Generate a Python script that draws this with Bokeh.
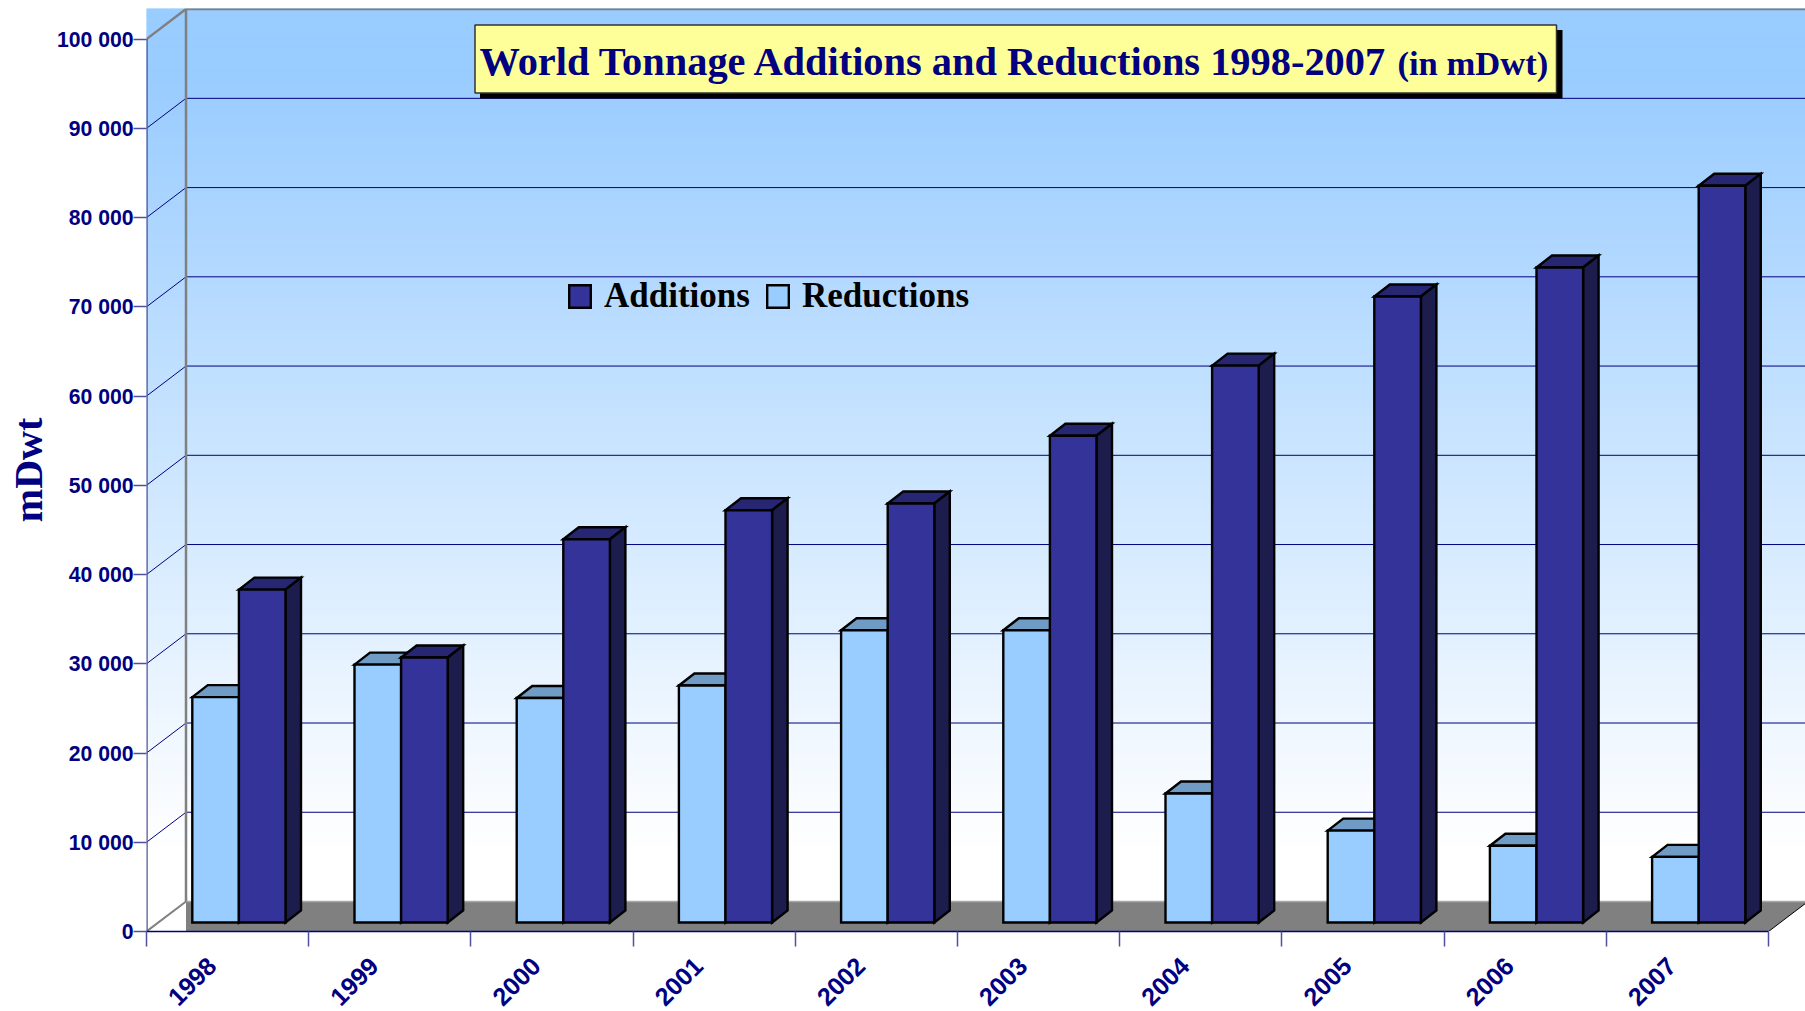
from bokeh.plotting import figure
from bokeh.embed import file_html
from bokeh.resources import INLINE
from bokeh.models import FixedTicker, Legend, LegendItem
from bokeh.core.properties import value

years = ["1998", "1999", "2000", "2001", "2002", "2003", "2004", "2005", "2006", "2007"]
additions = [37300, 29700, 42950, 46200, 46950, 54550, 62400, 70150, 73400, 82550]
reductions = [25250, 28900, 25150, 26550, 32750, 32750, 14450, 10300, 8600, 7350]
y_ticks = [0, 10000, 20000, 30000, 40000, 50000, 60000, 70000, 80000, 90000, 100000]
y_labels = ["0", "10 000", "20 000", "30 000", "40 000", "50 000", "60 000", "70 000", "80 000", "90 000", "100 000"]

# geometry of the reference, in page pixels
LEFT, TOP, BOTTOM = 146.0, 8.0, 931.0
XS, YS = 162.2, 0.008924
WIDTH, HEIGHT = 1805, 1011
frame_w, frame_h = WIDTH - int(LEFT), int(BOTTOM - TOP)


def dx(px):
    return px / XS


def dy(px):
    return px / YS


def X(px):
    return (px - LEFT) / XS


def Y(px):
    return (BOTTOM - px) / YS


p = figure(width=WIDTH, height=HEIGHT, frame_width=frame_w, frame_height=frame_h,
           x_range=(0, frame_w / XS), y_range=(0, frame_h / YS),
           output_backend="svg", toolbar_location=None,
           min_border_left=int(LEFT), min_border_right=0, min_border_top=int(TOP), min_border_bottom=HEIGHT - int(BOTTOM),
           outline_line_color=None, background_fill_color="white", border_fill_color="white")
p.grid.visible = False

# back wall gradient
n = 120
tops = [frame_h / YS * (n - i) / n for i in range(n)]
bots = [frame_h / YS * (n - i - 1) / n for i in range(n)]


def lerp(t):
    t = min(1.0, max(0.0, t))
    a, b, c = (0x99, 0xCC, 0xFF)
    return "#%02x%02x%02x" % (round(a + (255 - a) * t), round(b + (255 - b) * t), round(c + (255 - c) * t))


cols = [lerp((i / n - 0.07) / 0.84) for i in range(n)]
p.quad(left=0, right=frame_w / XS, top=tops, bottom=bots, fill_color=cols, line_color=cols, line_width=1)

# wall depth
WX, WY = dx(39.5), dy(30.0)
xend = 10

# floor
p.patch([WX, WX, xend + WX, xend], [0, WY, WY, 0], fill_color="#808080", line_color=None)
p.line([WX, xend + WX], [WY, WY], line_color="#a8a8a8", line_width=1.5)
p.line([xend, xend + WX], [0, WY], line_color="#000000", line_width=1)

# gridlines
g = [t for t in y_ticks[1:-1]]
p.segment(x0=[0] * len(g), y0=g, x1=[WX] * len(g), y1=[t + WY for t in g], line_color="#000080", line_width=1)
p.segment(x0=[WX] * len(g), y0=[t + WY for t in g], x1=[frame_w / XS] * len(g), y1=[t + WY for t in g],
          line_color="#000080", line_width=1)

# wall frame
p.line([0, WX, frame_w / XS], [100000, 100000 + WY, 100000 + WY], line_color="#808080", line_width=2.5)
p.line([WX, WX], [WY, 100000 + WY], line_color="#808080", line_width=2.5)
p.line([0, WX], [0, WY], line_color="#808080", line_width=2)
p.line([0, 0], [0, 100000], line_color="#55559a", line_width=2.5)

# 3D bars
HALF = dx(46.6)
FX, FY = dx(11.3), dy(9.0)
BX, BY = dx(15.5), dy(12.0)
LW = 2.4

r_front = None
a_front = None
for i in range(len(years)):
    x0 = i + 0.5 - HALF + FX
    x1 = i + 0.5 + FX
    x2 = i + 0.5 + HALF + FX
    t = reductions[i] + FY
    p.patch([x0, x0 + BX, x1 + BX, x1], [t, t + BY, t + BY, t], fill_color="#6f9bc4", line_color="black",
            line_width=LW, line_join="miter")
    p.patch([x1, x1 + BX, x1 + BX, x1], [t, t + BY, FY + BY, FY], fill_color="#5f86ad", line_color="black",
            line_width=LW, line_join="miter")
    r_front = p.quad(left=x0, right=x1, top=t, bottom=FY, fill_color="#99ccff", line_color="black",
                     line_width=LW, line_join="miter")
    t = additions[i] + FY
    p.patch([x1, x1 + BX, x2 + BX, x2], [t, t + BY, t + BY, t], fill_color="#262673", line_color="black",
            line_width=LW, line_join="miter")
    p.patch([x2, x2 + BX, x2 + BX, x2], [t, t + BY, FY + BY, FY], fill_color="#1c1c4d", line_color="black",
            line_width=LW, line_join="miter")
    a_front = p.quad(left=x1, right=x2, top=t, bottom=FY, fill_color="#333399", line_color="black",
                     line_width=LW, line_join="miter")

# axes
LABEL_SHIFT = dx(16)
xa = p.xaxis[0]
xa.ticker = FixedTicker(ticks=[i + 0.5 - LABEL_SHIFT for i in range(10)], minor_ticks=list(range(11)))
xa.major_label_overrides = {i + 0.5 - LABEL_SHIFT: y for i, y in enumerate(years)}
xa.bounds = (0, 10)
xa.axis_line_color = "#000080"
xa.axis_line_width = 1.5
xa.major_tick_line_color = None
xa.minor_tick_line_color = "#5050a0"
xa.minor_tick_out = 15
xa.minor_tick_in = 0
xa.minor_tick_line_width = 1.5
xa.major_tick_out = 15
xa.major_label_orientation = 0.785
xa.major_label_standoff = 15
xa.major_label_text_font = "Liberation Sans"
xa.major_label_text_font_style = "bold"
xa.major_label_text_font_size = "25px"
xa.major_label_text_color = "#000080"

ya = p.yaxis[0]
ya.ticker = FixedTicker(ticks=y_ticks)
ya.major_label_overrides = dict(zip(y_ticks, y_labels))
ya.axis_line_color = None
ya.major_tick_line_color = "#5050a0"
ya.major_tick_line_width = 1.5
ya.major_tick_out = 13
ya.major_tick_in = 0
ya.minor_tick_line_color = None
ya.major_label_standoff = 0
ya.major_label_text_font = "Liberation Sans"
ya.major_label_text_font_style = "bold"
ya.major_label_text_font_size = "21.2px"
ya.major_label_text_color = "#000080"
ya.axis_label = "mDwt"
ya.axis_label_standoff = 3
ya.axis_label_text_font = "Liberation Serif"
ya.axis_label_text_font_style = "bold"
ya.axis_label_text_font_size = "40px"
ya.axis_label_text_color = "#000080"

# title box
p.quad(left=X(479.5), right=X(1562), top=Y(29.5), bottom=Y(98), fill_color="black", line_color=None)
p.quad(left=X(474.5), right=X(1556), top=Y(24.5), bottom=Y(92.5), fill_color="#ffff99", line_color="#333333", line_width=1.5)
p.text(x=[X(479)], y=[Y(61)], text=["World Tonnage Additions and Reductions 1998-2007"],
       text_font=value("Liberation Serif"), text_font_style="bold", text_font_size="40.4px",
       text_color="#000080", text_baseline="middle", text_align="left")
p.text(x=[X(1397)], y=[Y(62)], text=["(in mDwt)"],
       text_font=value("Liberation Serif"), text_font_style="bold", text_font_size="34.6px",
       text_color="#000080", text_baseline="middle", text_align="left")

legend = Legend(items=[LegendItem(label="Additions", renderers=[a_front]),
                       LegendItem(label="Reductions", renderers=[r_front])],
                orientation="horizontal", location=(420, 615),
                glyph_width=27, glyph_height=28, label_standoff=11, spacing=14, padding=0, margin=0,
                background_fill_alpha=0, border_line_alpha=0,
                label_text_font="Liberation Serif", label_text_font_style="bold",
                label_text_font_size="35px", label_text_color="black")
p.add_layout(legend, "center")

open("out.html", "w").write(file_html(p, INLINE))
